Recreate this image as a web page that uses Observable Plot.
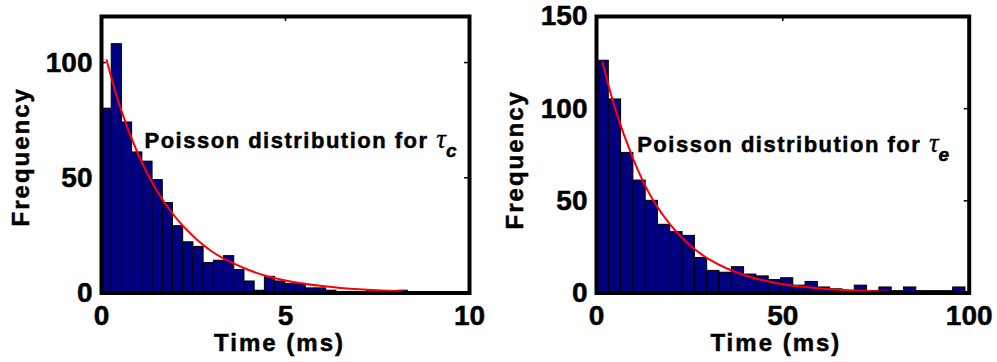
<!DOCTYPE html>
<html><head><meta charset="utf-8">
<script src="https://cdn.jsdelivr.net/npm/d3@7"></script>
<script src="https://cdn.jsdelivr.net/npm/@observablehq/plot@0.6"></script>
<style>
body{margin:0;background:#fff;}
#wrap{display:flex;width:997px;height:362px;overflow:hidden;}
svg text{font-weight:700;fill:#000;stroke:#000;stroke-width:0.5px;}
</style></head><body><div id="wrap"></div>
<script>
// ---- Left panel: tau_c (ms) ----
const leftCounts = [80,108,74,61,57,49,39,29,22,20,13,14,16,10,5,1,7,5,4,4,2,2,1,0,0,0,1,0,0,1];
const leftBinStart = 0;
const leftBinWidth = 0.2775;
const leftFitX = [0.14,0.5,1.0,1.5,2.0,2.5,3.0,3.5,4.0,4.5,5.0,5.5,6.0,6.5,7.0,7.5,8.0,8.19];
const leftFitY = [101,81,60,44.5,33,24.5,18,13.5,10,7.3,5.4,4,3,2.2,1.6,1.2,0.9,0.8];
const leftXTicks = [0,5,10];
const leftYTicks = [0,50,100];
const leftSub = "c";

// ---- Right panel: tau_e (ms) ----
const rightCounts = [126,105,76,61,50,37,33,31,19,12,11,14,10,9,7,8,4,6,3,2,1,4,1,3,1,3,1,1,1,3];
const rightBinStart = 0;
const rightBinWidth = 3.3;
const rightFitX = [1.65,5,10,15,20,25,30,35,40,45,50,55,60,65,70,75,80,85,90,95,97.35];
const rightFitY = [125,100,72,51,36.5,26,18.5,13.3,9.5,6.8,4.8,3.5,2.5,1.8,1.3,0.9,0.6,0.45,0.3,0.2,0.2];
const rightXTicks = [0,50,100];
const rightYTicks = [0,50,100,150];
const rightSub = "e";

const annotText = "Poisson distribution for ";
const xLabel = "Time (ms)";
const yLabel = "Frequency";

function panel(o) {
  const H = 362;
  const bins = o.counts.map((c, i) => ({x1: o.binStart + i*o.binWidth, x2: o.binStart + (i+1)*o.binWidth, y1: 0, y2: c}));
  const fit = o.fitX.map((x, i) => ({x, y: o.fitY[i]}));
  const fw = o.width - o.ml - o.mr, fh = H - o.mt - o.mb;
  const svg = Plot.plot({
    width: o.width, height: H,
    marginLeft: o.ml, marginRight: o.mr, marginTop: o.mt, marginBottom: o.mb,
    x: {domain: o.xDomain}, y: {domain: o.yDomain},
    style: {fontFamily: "'Liberation Sans', Arial, sans-serif", fontSize: "28px", background: "white", overflow: "visible"},
    marks: [
      Plot.tickY(o.yTicks, {y: d => d, insetRight: fw - 5, stroke: "black", strokeWidth: 1.5}),
      Plot.tickX(o.xTicks, {x: d => d, insetTop: fh - 5, stroke: "black", strokeWidth: 1.5}),
      Plot.rect(bins, {x1: "x1", x2: "x2", y1: "y1", y2: "y2", fill: "#000080", stroke: "black", strokeWidth: 1}),
      Plot.line(fit, {x: "x", y: "y", stroke: "#ff0000", strokeWidth: 2, curve: "natural"}),
      Plot.tickY(o.yTicks, {y: d => d, insetLeft: fw - 5, stroke: "black", strokeWidth: 1.5}),
      Plot.tickX(o.xTicks, {x: d => d, insetBottom: fh - 5, stroke: "black", strokeWidth: 1.5}),
      Plot.frame({stroke: "black", strokeWidth: 4}),
      Plot.axisX(o.xTicks, {tickSize: 0, tickPadding: 12, fontSize: 28, label: null}),
      Plot.axisY(o.yTicks, {tickSize: 0, tickPadding: 9, fontSize: 28, label: null}),
      Plot.text([yLabel], {text: d => d, frameAnchor: "left", rotate: -90, textAnchor: "middle", lineAnchor: "middle", dx: o.ylabDx, dy: o.ylabDy, fontSize: 24}),
      Plot.text([xLabel], {text: d => d, frameAnchor: "bottom", textAnchor: "middle", lineAnchor: "middle", dx: o.xlabDx, dy: 50, fontSize: 24}),
      Plot.text([annotText], {text: d => d, frameAnchor: "top-left", textAnchor: "start", lineAnchor: "middle", dx: o.annDx, dy: o.annDy, fontSize: 22})
    ]
  });
  const s = d3.select(svg);
  s.selectAll("text").filter(function() { return this.textContent === yLabel || this.textContent === xLabel; })
    .style("letter-spacing", "2px");
  s.selectAll("text").filter(function() { return this.textContent === annotText; })
    .each(function() {
      const t = d3.select(this);
      t.text(null).style("letter-spacing", "1.5px");
      t.append("tspan").text(annotText);
      t.append("tspan").text("τ").attr("style", "font-family:'Liberation Serif','DejaVu Serif',serif;font-style:italic;font-weight:400;font-size:27px;letter-spacing:0;stroke-width:0.3px");
      t.append("tspan").text(o.sub).attr("dy", 9).attr("style", "font-style:italic;font-size:19px;letter-spacing:0");
    });
  return svg;
}

const wrap = document.getElementById("wrap");
wrap.appendChild(panel({
  counts: leftCounts, binStart: leftBinStart, binWidth: leftBinWidth,
  fitX: leftFitX, fitY: leftFitY, xTicks: leftXTicks, yTicks: leftYTicks, sub: leftSub,
  xDomain: [0, 10], yDomain: [0, 120],
  width: 500, ml: 101, mr: 31, mt: 16, mb: 69.5,
  ylabDx: -80, ylabDy: 2, xlabDx: -6, annDx: 43, annDy: 124
}));
wrap.appendChild(panel({
  counts: rightCounts, binStart: rightBinStart, binWidth: rightBinWidth,
  fitX: rightFitX, fitY: rightFitY, xTicks: rightXTicks, yTicks: rightYTicks, sub: rightSub,
  xDomain: [0, 100], yDomain: [0, 150],
  width: 497, ml: 96, mr: 28.3, mt: 16, mb: 69.5,
  ylabDx: -81, ylabDy: 5, xlabDx: -7, annDx: 40.7, annDy: 128.7
}));
</script></body></html>
